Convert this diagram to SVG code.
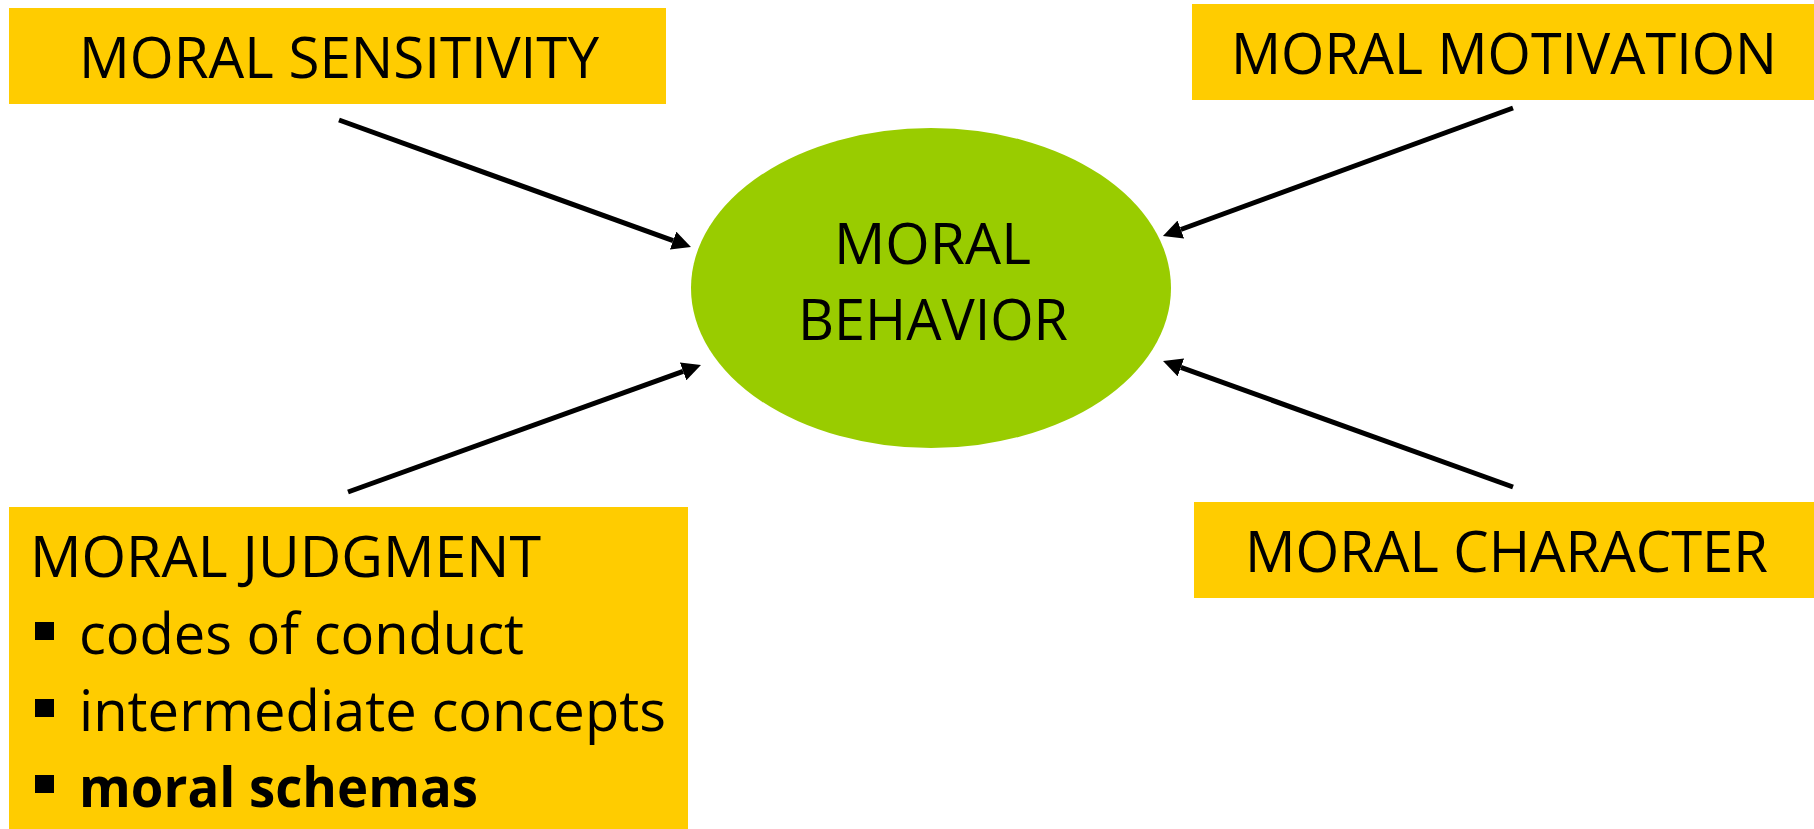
<svg xmlns="http://www.w3.org/2000/svg" width="1814" height="829" viewBox="0 0 1814 829">
  <style>
    .box { fill: #FFCC00; }
    .oval { fill: #99CC00; }
    .t { font-family: "Open Sans", "Noto Sans", "Liberation Sans", sans-serif; font-size: 56px; fill: #000000; }
    .b { font-weight: 700; }
    .conn { stroke: #000000; stroke-width: 5; fill: none; stroke-linecap: butt; marker-end: url(#ah); }
    .bullet { fill: #000000; }
  </style>
  <defs>
    <marker id="ah" viewBox="0 0 19 19" refX="0" refY="9.5" markerWidth="19" markerHeight="19" markerUnits="userSpaceOnUse" orient="auto">
      <path d="M0,0 L19,9.5 L0,19 Z" fill="#000000"/>
    </marker>
  </defs>
  <rect x="0" y="0" width="1814" height="829" fill="#FFFFFF"/>

  <g id="moral-sensitivity">
    <rect class="box" x="9" y="8" width="657" height="96"/>
    <text class="t" x="79" y="78" textLength="520" lengthAdjust="spacingAndGlyphs">MORAL SENSITIVITY</text>
  </g>

  <g id="moral-motivation">
    <rect class="box" x="1192" y="4" width="622" height="96"/>
    <text class="t" x="1231" y="74" textLength="546" lengthAdjust="spacingAndGlyphs">MORAL MOTIVATION</text>
  </g>

  <g id="moral-behavior">
    <ellipse class="oval" cx="931" cy="288" rx="240" ry="160"/>
    <text class="t" x="834" y="264" textLength="197" lengthAdjust="spacingAndGlyphs">MORAL</text>
    <text class="t" x="798" y="340" textLength="270" lengthAdjust="spacingAndGlyphs">BEHAVIOR</text>
  </g>

  <g id="moral-character">
    <rect class="box" x="1194" y="502" width="620" height="96"/>
    <text class="t" x="1245" y="572" textLength="523" lengthAdjust="spacingAndGlyphs">MORAL CHARACTER</text>
  </g>

  <g id="moral-judgment">
    <rect class="box" x="9" y="507" width="679" height="322"/>
    <text class="t" x="30" y="577" textLength="511" lengthAdjust="spacingAndGlyphs">MORAL JUDGMENT</text>
    <rect class="bullet" x="35" y="622" width="19" height="18"/>
    <text class="t" x="79" y="654" textLength="445" lengthAdjust="spacingAndGlyphs">codes of conduct</text>
    <rect class="bullet" x="35" y="699" width="19" height="18"/>
    <text class="t" x="79" y="731" textLength="587" lengthAdjust="spacingAndGlyphs">intermediate concepts</text>
    <rect class="bullet" x="35" y="775" width="19" height="18"/>
    <text class="t b" x="79" y="807" textLength="399" lengthAdjust="spacingAndGlyphs">moral schemas</text>
  </g>

  <g id="connectors">
    <line class="conn" x1="339" y1="120" x2="673.1" y2="240.6"/>
    <line class="conn" x1="1513" y1="108" x2="1180.8" y2="229.5"/>
    <line class="conn" x1="348" y1="492" x2="683.1" y2="371.4"/>
    <line class="conn" x1="1513" y1="487" x2="1180.9" y2="367.4"/>
  </g>
</svg>
